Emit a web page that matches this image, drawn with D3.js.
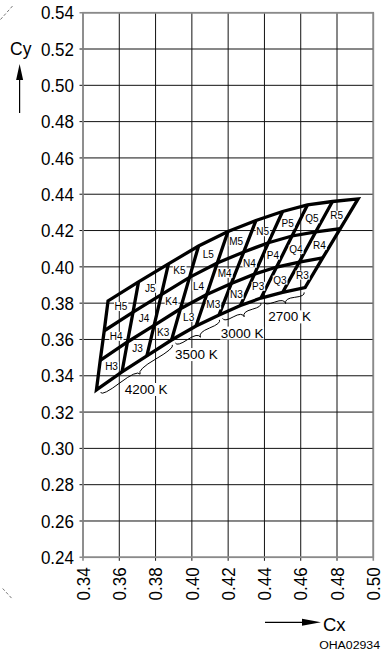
<!DOCTYPE html>
<html><head><meta charset="utf-8">
<script src="https://cdn.jsdelivr.net/npm/d3@7"></script>
<style>
html,body{margin:0;padding:0;background:#fff;}
svg{display:block;}
text{font-family:"Liberation Sans",Arial,Helvetica,sans-serif;fill:#000;}
</style></head><body>
<svg id="chart" width="385" height="656"></svg>
<script>
// Axis ticks (chromaticity coordinates)
const xTicks = [0.34, 0.36, 0.38, 0.40, 0.42, 0.44, 0.46, 0.48, 0.50];
const yTicks = [0.24, 0.26, 0.28, 0.30, 0.32, 0.34, 0.36, 0.38, 0.40, 0.42, 0.44, 0.46, 0.48, 0.50, 0.52, 0.54];

// Colour bins: columns H..R, rows 3..5
const binColumns = ["H", "J", "K", "L", "M", "N", "P", "Q", "R"];
const binRows = ["3", "4", "5"];

// Bin corner coordinates. edge0 = lower edge of row 3, edge3 = upper edge of row 5;
// each array runs over the ten column boundaries from left (H) to right (R).
const edge0Cx = [0.3474, 0.3615, 0.3752, 0.3888, 0.4023, 0.4150, 0.4268, 0.4381, 0.4500, 0.4624];
const edge0Cy = [0.3322, 0.3421, 0.3509, 0.3597, 0.3674, 0.3735, 0.3787, 0.3828, 0.3859, 0.3886];
const edge1Cx = [0.3495, 0.3645, 0.3792, 0.3937, 0.4082, 0.4217, 0.4345, 0.4467, 0.4592, 0.4721];
const edge1Cy = [0.3485, 0.3586, 0.3678, 0.3769, 0.3848, 0.3908, 0.3960, 0.3999, 0.4026, 0.4049];
const edge2Cx = [0.3517, 0.3676, 0.3832, 0.3987, 0.4140, 0.4286, 0.4422, 0.4552, 0.4683, 0.4818];
const edge2Cy = [0.3648, 0.3751, 0.3847, 0.3942, 0.4021, 0.4082, 0.4133, 0.4170, 0.4193, 0.4211];
const edge3Cx = [0.3538, 0.3706, 0.3871, 0.4037, 0.4199, 0.4353, 0.4500, 0.4637, 0.4775, 0.4916];
const edge3Cy = [0.3812, 0.3917, 0.4016, 0.4115, 0.4195, 0.4255, 0.4305, 0.4341, 0.4360, 0.4374];

// Colour temperature groups along the lower edge (column boundary indices)
const cctLabels = ["4200 K", "3500 K", "3000 K", "2700 K"];
const cctFrom = [0, 3, 5, 7];
const cctTo = [3, 5, 7, 9];

const svg = d3.select("#chart");
const x = d3.scaleLinear().domain([0.34, 0.50]).range([83, 373.3]);
const y = d3.scaleLinear().domain([0.24, 0.54]).range([557.3, 12.7]);
const fmt = d3.format(".2f");
const frameColor = "#8a8a8a";
const [x0, x1] = x.range();
const [yb, yt] = y.range();

// ---- grid ----
const grid = svg.append("g");
grid.selectAll("line.v").data(xTicks).join("line")
  .attr("x1", d => x(d)).attr("x2", d => x(d))
  .attr("y1", yt).attr("y2", yb + 3.5)
  .attr("stroke", (d, i) => (i === 0 || i === xTicks.length - 1) ? frameColor : "#111")
  .attr("stroke-width", (d, i) => (i === 0 || i === xTicks.length - 1) ? 1.6 : 1);
grid.selectAll("line.h").data(yTicks).join("line")
  .attr("x1", x0 - 3.5).attr("x2", x1)
  .attr("y1", d => y(d)).attr("y2", d => y(d))
  .attr("stroke", (d, i) => (i === 0 || i === yTicks.length - 1) ? frameColor : "#111")
  .attr("stroke-width", (d, i) => (i === 0 || i === yTicks.length - 1) ? 1.6 : 1);
svg.append("rect").attr("x", x0).attr("y", yt).attr("width", x1 - x0).attr("height", yb - yt)
  .attr("fill", "none").attr("stroke", frameColor).attr("stroke-width", 1.6);

// ---- tick labels ----
svg.append("g").selectAll("g").data(yTicks).join("g")
  .attr("transform", d => `translate(${x0 - 9},${y(d)}) scale(0.92,1)`)
  .append("text").attr("text-anchor", "end").attr("dy", "0.36em")
  .attr("font-size", 18.5).text(fmt);
svg.append("g").selectAll("g").data(xTicks).join("g")
  .attr("transform", d => `translate(${x(d)},${yb + 10}) rotate(-90) scale(0.92,1)`)
  .append("text").attr("text-anchor", "end").attr("dy", "0.36em")
  .attr("font-size", 18.5).text(fmt);

// ---- bin mesh ----
const edgesCx = [edge0Cx, edge1Cx, edge2Cx, edge3Cx];
const edgesCy = [edge0Cy, edge1Cy, edge2Cy, edge3Cy];
const P = (r, i) => [x(edgesCx[r][i]), y(edgesCy[r][i])];
const line = d3.line();
const nB = binColumns.length + 1;

const mesh = svg.append("g").attr("fill", "none").attr("stroke", "#000").attr("stroke-width", 3.3);
[1, 2].forEach(r => {
  mesh.append("path").attr("d", line(d3.range(nB).map(i => P(r, i))));
});
d3.range(1, nB - 1).forEach(i => {
  mesh.append("path").attr("d", line([0, 1, 2, 3].map(r => P(r, i))));
});
const outline = [
  ...d3.range(nB).map(i => P(0, i)),
  ...[1, 2, 3].map(r => P(r, nB - 1)),
  ...d3.range(nB - 2, -1, -1).map(i => P(3, i)),
  ...[2, 1].map(r => P(r, 0))
];
mesh.append("path").attr("d", line(outline) + "Z").attr("stroke-linejoin", "miter").attr("stroke-miterlimit", 10);

// ---- bin labels ----
function labelWithBox(g, px, py, txt, size) {
  const t = g.append("text").attr("x", px).attr("y", py).attr("dy", "0.36em")
    .attr("text-anchor", "middle").attr("font-size", size).text(txt);
  const b = t.node().getBBox();
  g.insert("rect", "text").attr("x", b.x - 0.5).attr("y", b.y + 1).attr("width", b.width + 1)
    .attr("height", b.height - 2).attr("fill", "#fff");
}
const labels = svg.append("g");
binColumns.forEach((c, ci) => {
  binRows.forEach((r, ri) => {
    const pts = [P(ri, ci), P(ri, ci + 1), P(ri + 1, ci + 1), P(ri + 1, ci)];
    const cx = d3.mean(pts, p => p[0]);
    const cy = d3.mean(pts, p => p[1]);
    labelWithBox(labels.append("g"), cx, cy, c + r, 10);
  });
});

// ---- colour temperature braces ----
function brace(xa, ya, xb, yb2, w, q) {
  const len = Math.hypot(xa - xb, ya - yb2);
  const dx = (xa - xb) / len, dy = (ya - yb2) / len;
  const qx1 = xa + q * w * dy, qy1 = ya - q * w * dx;
  const qx2 = (xa - .25 * len * dx) + (1 - q) * w * dy, qy2 = (ya - .25 * len * dy) - (1 - q) * w * dx;
  const tx = (xa - .5 * len * dx) + w * dy, ty = (ya - .5 * len * dy) - w * dx;
  const qx3 = xb + q * w * dy, qy3 = yb2 - q * w * dx;
  const qx4 = (xa - .75 * len * dx) + (1 - q) * w * dy, qy4 = (ya - .75 * len * dy) - (1 - q) * w * dx;
  return { d: `M${xa},${ya} Q${qx1},${qy1} ${qx2},${qy2} T${tx},${ty} M${xb},${yb2} Q${qx3},${qy3} ${qx4},${qy4} T${tx},${ty}`, tx, ty };
}
// label placement relative to each brace tip (pixels)
const cctTextShift = [[6, 15], [-4, 17], [-2, 16], [4, 13]];
const braces = svg.append("g");
cctLabels.forEach((lab, k) => {
  const a = P(0, cctFrom[k]), b = P(0, cctTo[k]);
  const len = Math.hypot(b[0] - a[0], b[1] - a[1]);
  const ux = (b[0] - a[0]) / len, uy = (b[1] - a[1]) / len;
  const nx = -uy, ny = ux;
  const off = 4.5, trim = 2;
  const A = [a[0] + nx * off + ux * trim, a[1] + ny * off + uy * trim];
  const B = [b[0] + nx * off - ux * trim, b[1] + ny * off - uy * trim];
  const br = brace(A[0], A[1], B[0], B[1], 6.5, 0.6);
  const g = braces.append("g");
  labelWithBox(g, br.tx + cctTextShift[k][0], br.ty + cctTextShift[k][1], lab, 13.5);
  g.append("path").attr("d", br.d).attr("fill", "none").attr("stroke", "#000").attr("stroke-width", 1);
});

// ---- axis titles with arrows ----
svg.append("text").attr("x", 10).attr("y", 55).attr("font-size", 17.5).text("Cy");
svg.append("line").attr("x1", 19.6).attr("x2", 19.6).attr("y1", 113).attr("y2", 76)
  .attr("stroke", "#000").attr("stroke-width", 1.2);
svg.append("path").attr("d", "M19.6,64 L16.1,80 L23.1,80 Z").attr("fill", "#000");

svg.append("text").attr("x", 323).attr("y", 630.5).attr("font-size", 18.5).text("Cx");
svg.append("line").attr("x1", 265).attr("x2", 306).attr("y1", 622.3).attr("y2", 622.3)
  .attr("stroke", "#000").attr("stroke-width", 1.2);
svg.append("path").attr("d", "M321,622.3 L302,618.8 L302,625.8 Z").attr("fill", "#000");

svg.append("g").attr("transform", "translate(380,649.3) scale(1.12,1)")
  .append("text").attr("text-anchor", "end").attr("font-size", 11).text("OHA02934");

// ---- crop marks ----
svg.append("line").attr("x1", 0.5).attr("y1", 19.5).attr("x2", 13).attr("y2", 5.5)
  .attr("stroke", "#666").attr("stroke-width", 0.9).attr("stroke-dasharray", "3,2");
svg.append("line").attr("x1", 2.7).attr("y1", 588.5).attr("x2", 11.7).attr("y2", 598.3)
  .attr("stroke", "#666").attr("stroke-width", 0.9).attr("stroke-dasharray", "3,2");
</script>
</body></html>
